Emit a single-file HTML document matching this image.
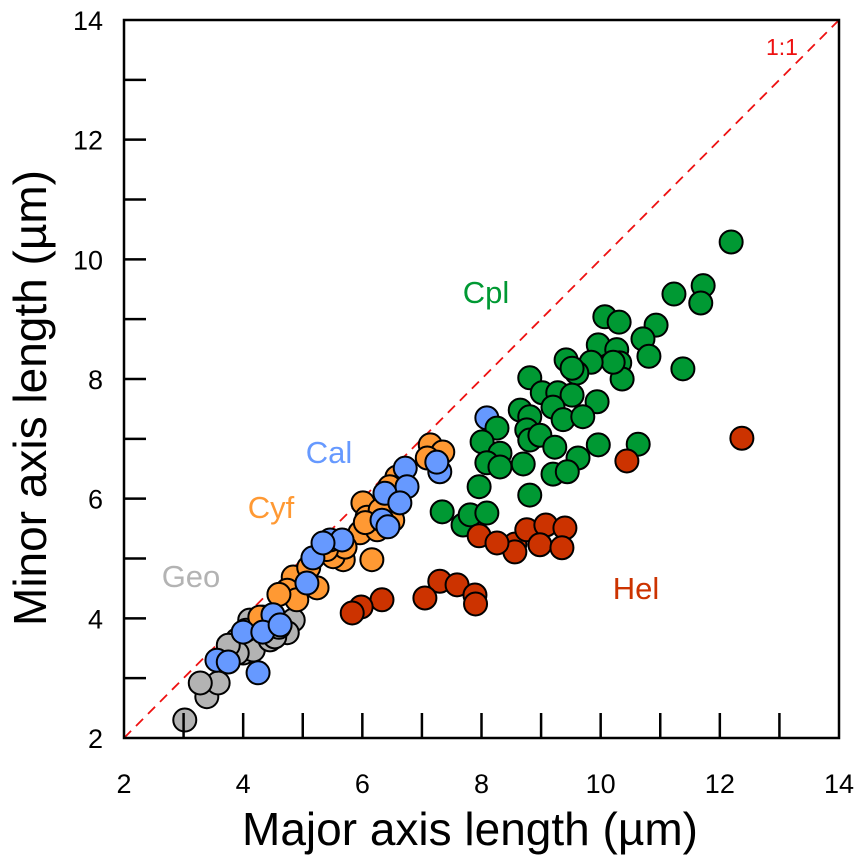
<!DOCTYPE html>
<html><head><meta charset="utf-8"><style>
html,body{margin:0;padding:0;background:#fff;width:866px;height:855px;overflow:hidden}
svg text{font-family:"Liberation Sans",sans-serif}
</style></head><body>
<svg id="chart" width="866" height="855" xmlns="http://www.w3.org/2000/svg">
<g id="marks"></g>
<g id="axes"></g>
</svg>
<script>
const xTicks=[2,4,6,8,10,12,14];
const yTicks=[2,4,6,8,10,12,14];
const geoX=[3.02,3.39,3.58,3.28,4.00,3.90,4.17,4.45,4.11,4.84,4.74,3.90,4.33,4.53,3.75,4.05,4.60];
const geoY=[2.30,2.69,2.92,2.92,3.42,3.64,3.47,3.64,3.97,3.97,3.76,3.42,4.02,3.69,3.55,3.80,3.85];
const cyfX=[7.14,7.35,7.09,6.58,6.46,6.01,6.08,6.51,5.96,6.16,5.68,5.51,4.84,4.74,5.24,4.90,4.28,5.71,6.25,6.30,5.10,5.40,4.60,6.05];
const cyfY=[6.90,6.78,6.68,6.36,6.20,5.93,5.69,5.64,5.43,4.98,4.98,5.03,4.69,4.47,4.51,4.31,4.02,5.19,5.48,5.81,4.85,5.15,4.40,5.60];
const calX=[8.09,7.30,7.25,6.72,6.75,6.38,6.63,6.33,6.43,5.46,5.66,5.17,5.07,4.50,4.00,4.33,4.62,3.56,3.75,4.25,5.34];
const calY=[7.35,6.45,6.61,6.51,6.20,6.09,5.93,5.64,5.53,5.31,5.31,5.01,4.59,4.06,3.77,3.77,3.89,3.30,3.27,3.09,5.26];
const cplX=[12.19,11.23,11.72,11.68,10.07,10.31,10.93,10.71,10.81,11.38,9.96,10.27,10.32,10.36,10.21,9.42,9.84,9.60,9.52,8.81,9.02,9.28,9.52,9.94,8.65,8.81,9.20,9.37,9.70,8.26,8.76,8.81,8.98,9.23,8.01,8.31,8.09,8.31,8.70,9.62,9.96,10.63,9.20,9.44,7.96,8.81,7.34,7.69,7.81,8.09];
const cplY=[10.29,9.42,9.56,9.27,9.04,8.95,8.90,8.67,8.38,8.17,8.57,8.49,8.27,8.00,8.28,8.32,8.28,8.10,8.18,8.02,7.77,7.77,7.73,7.62,7.48,7.37,7.53,7.32,7.37,7.18,7.15,6.98,7.06,6.86,6.95,6.76,6.60,6.53,6.58,6.68,6.90,6.91,6.41,6.45,6.20,6.06,5.78,5.56,5.73,5.76];
const helX=[12.37,10.44,7.96,8.56,8.76,9.08,9.40,8.98,9.35,8.56,8.26,7.30,7.59,7.89,7.90,7.05,6.33,5.98,5.83];
const helY=[7.01,6.63,5.38,5.24,5.48,5.56,5.51,5.23,5.18,5.11,5.26,4.62,4.56,4.39,4.24,4.34,4.31,4.19,4.09];
const L=124,R=839,T=20,B=738;
const sx=v=>L+(v-2)/12*(R-L);
const sy=v=>B-(v-2)/12*(B-T);
const NS="http://www.w3.org/2000/svg";
const marks=document.getElementById('marks'),axes=document.getElementById('axes');
function mk(tag,at,parent){const e=document.createElementNS(NS,tag);for(const k in at)e.setAttribute(k,at[k]);parent.appendChild(e);return e;}
const ln=mk('line',{x1:sx(2),y1:sy(2),x2:sx(14),y2:sy(14),stroke:'#ee1111','stroke-width':1.8,'stroke-dasharray':'10,7'},marks);


const series=[['geo',geoX,geoY,'#b3b3b3'],['cyf',cyfX,cyfY,'#ff9933'],['cal',calX,calY,'#6699ff'],['cpl',cplX,cplY,'#009933'],['hel',helX,helY,'#cc3300']];
for(const [nm,xs,ys,col] of series){
  for(let i=0;i<xs.length;i++){
    const c=mk('circle',{cx:sx(xs[i]),cy:sy(ys[i]),r:11.5,fill:col,stroke:'#000','stroke-width':2},marks);
    
    
  }
}
const fr=mk('rect',{x:L,y:T,width:R-L,height:B-T,fill:'none',stroke:'#000','stroke-width':2.5},axes);


for(let v=3;v<14;v++){
  const t=mk('line',{x1:sx(v),y1:B,x2:sx(v),y2:B-25,stroke:'#000','stroke-width':2.5},axes);
  
  
  const u=mk('line',{x1:L,y1:sy(v),x2:L+22,y2:sy(v),stroke:'#000','stroke-width':2.5},axes);
  
  
}
for(const v of xTicks){
  const t=mk('text',{x:sx(v),y:793,'font-size':27,'text-anchor':'middle',fill:'#000'},axes);
  t.textContent=v;
  
  
}
for(const v of yTicks){
  const t=mk('text',{x:103,y:sy(v)+10,'font-size':27,'text-anchor':'end',fill:'#000'},axes);
  t.textContent=v;
  
  
}
const labels=[['Geo',191,587,'#b3b3b3'],['Cyf',271,518,'#ff9933'],['Cal',329,463,'#6699ff'],['Cpl',486,303,'#009933'],['Hel',636,599,'#cc3300']];
for(const [s,x,y,c] of labels){
  const t=mk('text',{x:x,y:y,'font-size':31,'text-anchor':'middle',fill:c},axes);
  t.textContent=s;
  
  
}
const one=mk('text',{x:782,y:55,'font-size':23,'text-anchor':'middle',fill:'#ee1111'},axes);
one.textContent='1:1';


const xt=mk('text',{x:470,y:845,'font-size':46,'text-anchor':'middle',fill:'#000'},axes);
xt.textContent='Major axis length (µm)';


const yt=mk('text',{x:0,y:0,'font-size':46,'text-anchor':'middle',fill:'#000',transform:'translate(46,398) rotate(-90)'},axes);
yt.textContent='Minor axis length (µm)';


</script>
</body></html>
